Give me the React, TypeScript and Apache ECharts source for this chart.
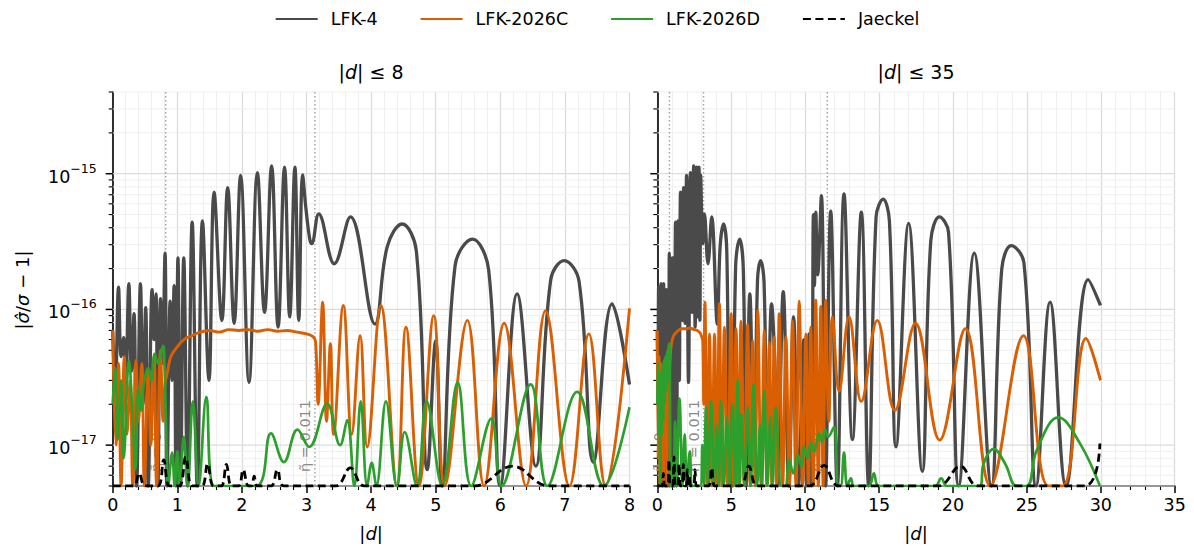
import React, { useEffect, useRef } from "react";
import * as echarts from "echarts";

// values are given in units of 1e-18
const UNIT = 1e-18;
const Y_MIN = 5e-18;
const Y_MAX = 4e-15;
const FONT = "DejaVu Sans";

const COLORS = { lfk4: "#4a4a4a", lfkC: "#d95f02", lfkD: "#2ca02c", jaeckel: "#000000" };
const LEGEND_NAMES = ["LFK-4", "LFK-2026C", "LFK-2026D", "Jaeckel"];

const Y_MAJOR = [1e-17, 1e-16, 1e-15];
const Y_MINOR = [
  5e-18, 6e-18, 7e-18, 8e-18, 9e-18,
  2e-17, 3e-17, 4e-17, 5e-17, 6e-17, 7e-17, 8e-17, 9e-17,
  2e-16, 3e-16, 4e-16, 5e-16, 6e-16, 7e-16, 8e-16, 9e-16,
  2e-15, 3e-15, 4e-15,
];

const ETA_LEFT = [0.82, 3.13];
const ETA_LEFT_LABELS = ["η̃ = 0", "η̃ = 0.011"];
const ETA_RIGHT = [0.82, 3.13, 11.5];
const ETA_RIGHT_LABELS = ["η̃ = 0", "η̃ = 0.011", "η̃ = 0.105"];

// LFK-4, shared by both panels for |d| < 8
const LFK4_NEAR = [
  [0.0, 70], [0.04, 25], [0.09, 146], [0.13, 45], [0.17, 62], [0.2, 22], [0.25, 155], [0.29, 35],
  [0.33, 93], [0.37, 5], [0.43, 155], [0.47, 20], [0.51, 103], [0.55, 5], [0.61, 140], [0.64, 60],
  [0.67, 130], [0.7, 5], [0.74, 120], [0.77, 40], [0.81, 260], [0.84, 5], [0.89, 115], [0.92, 30],
  [0.95, 150], [0.98, 5], [1.01, 240], [1.05, 5], [1.1, 240], [1.16, 5], [1.23, 440], [1.31, 5],
  [1.39, 450], [1.49, 30], [1.57, 730], [1.69, 83], [1.78, 790], [1.88, 79], [1.98, 970], [2.11, 29],
  [2.24, 1020], [2.35, 95], [2.46, 1140], [2.56, 74], [2.66, 1120], [2.74, 88], [2.82, 1120], [2.88, 83],
  [2.94, 980], [2.99, 560], [3.05, 330], [3.08, 305], [3.19, 506], [3.43, 217], [3.68, 480], [4.06, 78],
  [4.25, 290], [4.48, 426], [4.7, 270], [4.87, 6.6], [5.0, 59], [5.1, 5], [5.3, 210], [5.57, 330],
  [5.82, 195], [6.0, 5], [6.26, 130], [6.55, 7], [6.78, 165], [6.99, 229], [7.22, 160], [7.44, 7.5],
  [7.73, 110], [8.0, 28],
];
// LFK-4 beyond |d| = 8 (right panel)
const LFK4_FAR = [
  [8.15, 5], [8.52, 135], [8.9, 5], [9.22, 88], [9.55, 5], [9.9, 60], [10.1, 5], [10.27, 66],
  [10.45, 5], [10.56, 500], [10.63, 150], [10.72, 520], [10.85, 180], [11.1, 690], [11.38, 5],
  [11.73, 530], [12.18, 5], [12.63, 710], [13.2, 11], [13.8, 520], [14.3, 5], [14.8, 480], [15.28, 650],
  [15.7, 450], [16.15, 9.7], [17.0, 430], [17.92, 6.4], [18.5, 320], [19.08, 480], [19.7, 370],
  [20.39, 5], [21.44, 260], [22.6, 5], [23.3, 198], [23.94, 295], [24.8, 221], [25.62, 5],
  [26.57, 113], [27.65, 5], [29.15, 166], [29.98, 107],
];

const LFKC_LEFT = [
  [0.0, 70], [0.05, 10], [0.09, 40], [0.13, 5], [0.18, 45], [0.22, 12], [0.27, 30], [0.31, 5],
  [0.36, 42], [0.4, 15], [0.45, 40], [0.49, 5], [0.55, 35], [0.59, 10], [0.64, 45], [0.68, 5],
  [0.74, 50], [0.78, 15], [0.81, 28], [0.85, 35], [0.9, 45], [1.0, 53], [1.1, 60], [1.23, 64],
  [1.35, 68], [1.5, 70], [1.65, 68], [1.8, 71], [1.95, 70], [2.1, 71], [2.25, 69], [2.4, 71],
  [2.55, 69], [2.7, 70], [2.85, 68], [3.0, 66], [3.1, 63], [3.14, 58], [3.18, 20], [3.25, 113],
  [3.31, 15], [3.37, 56], [3.42, 12], [3.57, 107], [3.7, 12], [3.83, 64], [3.94, 9.7], [4.15, 107],
  [4.4, 5], [4.54, 74], [4.74, 5], [4.97, 90], [5.14, 5], [5.49, 83], [5.75, 5], [6.06, 79],
  [6.4, 5], [6.7, 98], [7.07, 5], [7.37, 66], [7.63, 5], [8.0, 102],
];
const LFKC_RIGHT = [
  [0.0, 70], [0.06, 8], [0.12, 45], [0.18, 5], [0.24, 40], [0.3, 10], [0.36, 38], [0.42, 5],
  [0.48, 42], [0.54, 12], [0.6, 45], [0.66, 5], [0.72, 50], [0.78, 18], [0.85, 40], [0.95, 55],
  [1.1, 64], [1.3, 68], [1.62, 72], [2.0, 72], [2.18, 73], [2.5, 71], [2.7, 70], [2.9, 67],
  [3.0, 63], [3.08, 58], [3.14, 20], [3.22, 113], [3.38, 5], [3.53, 66], [3.7, 5], [3.87, 66],
  [4.03, 5], [4.2, 110], [4.37, 5], [4.54, 74], [4.76, 5], [4.99, 93], [5.16, 5], [5.33, 72],
  [5.5, 5], [5.66, 82], [5.88, 5], [6.11, 78], [6.28, 5], [6.45, 59], [6.62, 5], [6.8, 98],
  [7.02, 5], [7.24, 70], [7.41, 5], [7.58, 57], [7.75, 5], [7.91, 63], [8.08, 5], [8.25, 93],
  [8.48, 5], [8.7, 63], [8.93, 5], [9.15, 82], [9.38, 5], [9.6, 115], [9.83, 5], [10.05, 66],
  [10.22, 5], [10.38, 74], [10.55, 5], [10.72, 117], [10.89, 5], [11.06, 105], [11.22, 5],
  [11.39, 117], [11.6, 15], [11.85, 88], [12.3, 25], [12.97, 88], [13.8, 21], [14.88, 83],
  [16.07, 18], [17.46, 79], [19.1, 10.9], [20.84, 72], [22.52, 5], [24.77, 64], [26.45, 5],
  [27.42, 5], [29.0, 61], [29.98, 30],
];

const LFKD_LEFT = [
  [0.0, 20], [0.04, 37], [0.08, 11], [0.13, 30], [0.17, 8], [0.25, 42], [0.32, 12], [0.35, 6.6],
  [0.4, 27], [0.44, 18], [0.48, 28], [0.55, 37], [0.6, 30], [0.65, 47], [0.7, 40], [0.78, 54],
  [0.8, 40], [0.82, 18], [0.86, 5], [0.92, 8.8], [0.96, 5], [1.0, 9], [1.04, 5], [1.1, 11.5],
  [1.16, 5], [1.24, 21], [1.33, 5], [1.45, 22.7], [1.57, 5], [2.22, 5], [2.45, 12.2], [2.65, 7.5],
  [2.86, 13], [3.04, 9.7], [3.32, 20.2], [3.52, 10], [3.63, 15.3], [3.74, 5], [3.84, 21], [3.94, 5],
  [4.01, 7.4], [4.08, 5], [4.23, 21], [4.4, 5], [4.52, 12.5], [4.71, 5], [4.86, 21], [5.1, 5],
  [5.34, 29], [5.55, 5], [5.86, 15.7], [6.02, 5], [6.47, 28], [6.73, 5], [7.19, 24.7], [7.6, 5],
  [8.0, 19],
];
const LFKD_RIGHT = [
  [0.0, 20], [0.05, 40], [0.1, 12], [0.15, 35], [0.2, 5], [0.25, 30], [0.3, 12], [0.35, 38],
  [0.4, 15], [0.45, 42], [0.5, 20], [0.55, 45], [0.6, 25], [0.65, 48], [0.7, 30], [0.76, 52],
  [0.82, 56], [0.86, 20], [0.9, 5], [1.0, 8], [1.1, 5], [1.2, 15], [1.3, 5], [1.5, 22], [1.7, 5],
  [1.85, 12], [2.0, 5], [2.2, 9], [2.4, 5], [2.9, 5], [3.05, 10], [3.15, 5], [3.3, 19], [3.45, 5],
  [3.64, 21], [3.85, 5], [4.0, 14], [4.15, 5], [4.3, 21], [4.5, 5], [4.7, 16], [4.9, 5], [5.1, 20],
  [5.28, 5], [5.44, 30], [5.58, 5], [5.7, 17], [5.9, 5], [6.12, 19], [6.32, 5], [6.52, 28],
  [6.75, 5], [6.95, 14], [7.08, 5], [7.24, 25], [7.45, 5], [7.65, 16], [7.8, 5], [8.02, 19],
  [8.4, 5], [8.65, 5], [8.92, 7.8], [9.2, 6.2], [9.5, 8.5], [9.75, 7], [9.93, 9.7], [10.15, 8],
  [10.4, 10.5], [10.6, 9], [10.95, 12.2], [11.15, 10.5], [11.35, 13], [11.55, 11.5], [11.96, 13.6],
  [12.1, 9], [12.2, 5], [12.4, 5], [12.63, 8.8], [12.85, 5], [13.1, 5.7], [13.3, 5], [14.3, 5],
  [14.65, 6.2], [15.0, 5], [18.8, 5], [19.2, 5.7], [19.6, 5], [21.8, 5], [22.07, 7.3], [22.75, 9.4],
  [23.53, 7.3], [24.3, 5], [25.0, 5], [25.67, 9.2], [27.13, 16], [28.59, 10.3], [29.94, 5],
];

// Jaeckel, shared by both panels for |d| < 8
const JAECKEL_NEAR = [
  [0.0, 5], [0.32, 5], [0.41, 6.2], [0.5, 5], [0.7, 5], [0.79, 7.8], [0.88, 5], [1.03, 5],
  [1.13, 8.2], [1.23, 5], [1.38, 5], [1.47, 7.3], [1.56, 5], [1.68, 5], [1.76, 7.2], [1.84, 5],
  [1.95, 5], [2.02, 6.6], [2.1, 5], [2.15, 5], [2.19, 5.9], [2.24, 5], [2.45, 5], [2.55, 6.6],
  [2.65, 5], [3.45, 5], [3.68, 6.8], [3.9, 5], [5.6, 5], [6.19, 7], [6.75, 5], [8.0, 5],
];
const JAECKEL_FAR = [
  [10.3, 5], [11.28, 7.1], [12.3, 5], [19.0, 5], [20.5, 7], [21.7, 5], [28.9, 5], [29.94, 10.3],
];

const toData = (arr: number[][]) => arr.map(([x, v]) => [x, v * UNIT]);

const lineSeries = (name: string, color: string, width: number, data: number[][], gi: number, dashed = false) => ({
  name,
  type: "line",
  xAxisIndex: gi,
  yAxisIndex: gi,
  data: toData(data),
  showSymbol: false,
  symbol: "none",
  smooth: 0.4,
  clip: true,
  z: 3,
  itemStyle: { color },
  lineStyle: { color, width, join: "round", type: dashed ? [8, 4.5] : "solid" },
  emphasis: { disabled: true },
});

const yGridSeries = (gi: number) => ({
  type: "custom",
  xAxisIndex: gi,
  yAxisIndex: gi,
  silent: true,
  clip: false,
  z: 1,
  data: [...Y_MAJOR.map((v) => [0, v, 1]), ...Y_MINOR.map((v) => [0, v, 0])],
  renderItem: (params: any, api: any) => {
    const cs = params.coordSys;
    const y = api.coord([0, api.value(1)])[1];
    const major = api.value(2) === 1;
    return {
      type: "group",
      children: [
        {
          type: "line",
          shape: { x1: cs.x, y1: y, x2: cs.x + cs.width, y2: y },
          style: { stroke: major ? "#dcdcdc" : "#efefef", lineWidth: major ? 1.3 : 1 },
        },
        {
          type: "line",
          shape: { x1: cs.x - (major ? 7 : 4), y1: y, x2: cs.x, y2: y },
          style: { stroke: "#000", lineWidth: major ? 1.5 : 1.1 },
        },
      ],
    };
  },
});

const etaSeries = (gi: number, xs: number[], labels: string[]) => ({
  type: "custom",
  xAxisIndex: gi,
  yAxisIndex: gi,
  silent: true,
  clip: false,
  z: 2,
  data: xs.map((x, i) => [x, Y_MIN, i]),
  renderItem: (params: any, api: any) => {
    const x = api.value(0);
    const top = api.coord([x, Y_MAX]);
    const bot = api.coord([x, Y_MIN]);
    return {
      type: "group",
      children: [
        {
          type: "line",
          shape: { x1: top[0], y1: top[1], x2: bot[0], y2: bot[1] },
          style: { stroke: "#a0a0a0", lineWidth: 1.4, lineDash: [1.4, 2.6] },
        },
        {
          type: "text",
          x: bot[0] - 10,
          y: bot[1] - 14,
          rotation: Math.PI / 2,
          style: {
            text: labels[params.dataIndex],
            fill: "#8a8a8a",
            fontSize: 14.5,
            fontFamily: FONT,
            align: "left",
            verticalAlign: "middle",
          },
        },
      ],
    };
  },
});

const xAxisFor = (gi: number, max: number, interval: number) => ({
  type: "value",
  gridIndex: gi,
  min: 0,
  max,
  interval,
  name: "|{i|d}|",
  nameLocation: "middle",
  nameGap: 38,
  nameTextStyle: {
    fontSize: 18,
    fontFamily: FONT,
    color: "#000",
    rich: { i: { fontSize: 18, fontFamily: FONT, fontStyle: "italic", color: "#000" } },
  },
  axisLine: { show: true, onZero: false, lineStyle: { color: "#000", width: 1.6 } },
  axisTick: { show: true, length: 7, lineStyle: { color: "#000", width: 1.5 } },
  minorTick: { show: true, splitNumber: 5, length: 4, lineStyle: { color: "#000", width: 1.1 } },
  splitLine: { show: true, lineStyle: { color: "#dcdcdc", width: 1.3 } },
  minorSplitLine: { show: true, lineStyle: { color: "#efefef", width: 1 } },
  axisLabel: { fontSize: 17.5, fontFamily: FONT, color: "#000", margin: 10 },
});

const yAxisFor = (gi: number, showLabels: boolean) => ({
  type: "log",
  logBase: 10,
  gridIndex: gi,
  min: Y_MIN,
  max: Y_MAX,
  axisLine: { show: true, onZero: false, lineStyle: { color: "#000", width: 1.6 } },
  axisTick: { show: false },
  splitLine: { show: false },
  axisLabel: {
    show: showLabels,
    showMinLabel: false,
    showMaxLabel: false,
    margin: 16,
    formatter: (v: number) => {
      const e = Math.log10(v);
      if (Math.abs(e - Math.round(e)) > 1e-6) return "";
      return "{b|10}{s|−" + Math.abs(Math.round(e)) + "}";
    },
    rich: {
      b: { fontSize: 17.5, fontFamily: FONT, color: "#000", lineHeight: 24, verticalAlign: "bottom" },
      s: { fontSize: 12.5, fontFamily: FONT, color: "#000", lineHeight: 14, verticalAlign: "top" },
    },
  },
});

export default function App() {
  const ref = useRef<HTMLDivElement>(null);
  useEffect(() => {
    if (!ref.current) return;
    const chart = echarts.init(ref.current, null, { renderer: "svg" });
    chart.setOption({
      animation: false,
      backgroundColor: "#ffffff",
      textStyle: { fontFamily: FONT },
      legend: {
        data: LEGEND_NAMES,
        top: 5,
        left: "center",
        itemWidth: 42,
        itemHeight: 14,
        itemGap: 42,
        itemStyle: { opacity: 0 },
        textStyle: { fontSize: 17.5, fontFamily: FONT, color: "#000", padding: [0, 0, 0, 8] },
      },
      grid: [
        { left: 112.7, top: 92, width: 516.8, height: 394, containLabel: false },
        { left: 657.3, top: 92, width: 517.4, height: 394, containLabel: false },
      ],
      xAxis: [xAxisFor(0, 8, 1), xAxisFor(1, 35, 5)],
      yAxis: [yAxisFor(0, true), yAxisFor(1, false)],
      graphic: [
        {
          type: "text",
          x: 371,
          y: 72,
          style: {
            text: "|{i|d}| ≤ 8",
            fontSize: 19,
            fontFamily: FONT,
            fill: "#000",
            align: "center",
            verticalAlign: "middle",
            rich: { i: { fontSize: 19, fontFamily: FONT, fontStyle: "italic", fill: "#000" } },
          },
        },
        {
          type: "text",
          x: 916,
          y: 72,
          style: {
            text: "|{i|d}| ≤ 35",
            fontSize: 19,
            fontFamily: FONT,
            fill: "#000",
            align: "center",
            verticalAlign: "middle",
            rich: { i: { fontSize: 19, fontFamily: FONT, fontStyle: "italic", fill: "#000" } },
          },
        },
        {
          type: "text",
          x: 22,
          y: 290,
          rotation: Math.PI / 2,
          style: {
            text: "|{i|σ̂}/{i|σ} − 1|",
            fontSize: 18,
            fontFamily: FONT,
            fill: "#000",
            align: "center",
            verticalAlign: "middle",
            rich: { i: { fontSize: 18, fontFamily: FONT, fontStyle: "italic", fill: "#000" } },
          },
        },
      ],
      series: [
        yGridSeries(0),
        yGridSeries(1),
        etaSeries(0, ETA_LEFT, ETA_LEFT_LABELS),
        etaSeries(1, ETA_RIGHT, ETA_RIGHT_LABELS),
        lineSeries("LFK-4", COLORS.lfk4, 3.3, LFK4_NEAR, 0),
        lineSeries("LFK-2026C", COLORS.lfkC, 2.9, LFKC_LEFT, 0),
        lineSeries("LFK-2026D", COLORS.lfkD, 2.7, LFKD_LEFT, 0),
        lineSeries("Jaeckel", COLORS.jaeckel, 2.8, JAECKEL_NEAR, 0, true),
        lineSeries("LFK-4", COLORS.lfk4, 3.3, [...LFK4_NEAR, ...LFK4_FAR], 1),
        lineSeries("LFK-2026C", COLORS.lfkC, 2.9, LFKC_RIGHT, 1),
        lineSeries("LFK-2026D", COLORS.lfkD, 2.7, LFKD_RIGHT, 1),
        lineSeries("Jaeckel", COLORS.jaeckel, 2.8, [...JAECKEL_NEAR, ...JAECKEL_FAR], 1, true),
      ],
    });
    return () => chart.dispose();
  }, []);
  return (
    <div
      ref={ref}
      style={{ position: "absolute", left: 0, top: 0, width: 1194, height: 556, background: "#fff" }}
    />
  );
}
